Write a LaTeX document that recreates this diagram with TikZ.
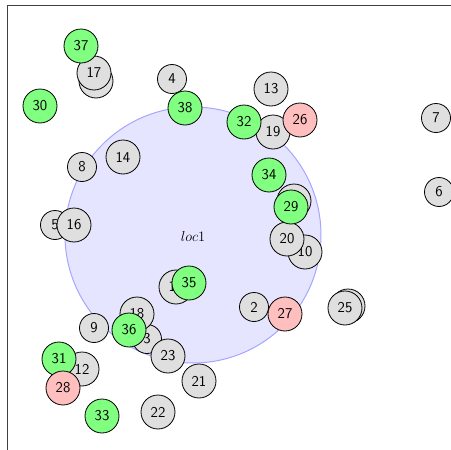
\documentclass[tikz,border=0pt]{standalone}
\usepackage{fontspec}
\begin{document}
\begin{tikzpicture}[x=1pt,y=-1pt,
  vtx/.style={circle,draw=black,line width=0.8pt,inner sep=0pt,
    font=\fontsize{15}{17}\sffamily},
  one/.style={vtx,minimum size=29pt},
  two/.style={vtx,minimum size=34pt},
  grey/.style={fill=gray!25},
  lime/.style={fill=green!50},
  rose/.style={fill=red!25},
  zone/.style={circle,fill=blue!10,draw=blue!35,line width=1pt,minimum size=256pt,inner sep=0pt},
  frameline/.style={draw=black!75,line width=0.9pt}]
\useasboundingbox (0,0) rectangle (451,450);
\draw[frameline] (7.5,450) -- (7.5,5.5) -- (451,5.5);

% region
\node[zone] (loc) at (193,235) {};
\node[font=\fontsize{15}{17}\selectfont] (loclabel) at (193,236) {$loc1$};

% grey vertices
\node[one,grey] (n2) at (254,307) {2};
\node[one,grey] (n3) at (147,339) {3};
\node[one,grey] (n4) at (172,79) {4};
\node[one,grey] (n5) at (55,225) {5};
\node[one,grey] (n6) at (439,192) {6};
\node[one,grey] (n7) at (436,118) {7};
\node[one,grey] (n8) at (82,167) {8};
\node[one,grey] (n9) at (94,328) {9};
\node[two,grey] (n10) at (305,252) {10};
\node[two,grey] (n11) at (96,81) {};
\node[two,grey] (n12) at (82,369) {12};
\node[two,grey] (n13) at (271,89) {13};
\node[two,grey] (n14) at (123,157) {14};
\node[two,grey] (n15) at (176,287) {15};
\node[two,grey] (n16) at (74,225) {16};
\node[two,grey] (n17) at (94,73) {17};
\node[two,grey] (n18) at (137,314) {18};
\node[two,grey] (n19) at (273,132) {19};
\node[two,grey] (n20) at (287,239) {20};
\node[two,grey] (n21) at (199,381) {21};
\node[two,grey] (n22) at (158,412) {22};
\node[two,grey] (n23) at (168,356) {23};
\node[two,grey] (n24) at (348,306) {};
\node[two,grey] (n25) at (345,308) {25};
\node[two,grey] (n39) at (294,201) {};

% green vertices
\node[two,lime] (n29) at (291,207) {29};
\node[two,lime] (n30) at (40,106) {30};
\node[two,lime] (n31) at (59,359) {31};
\node[two,lime] (n32) at (244,122) {32};
\node[two,lime] (n33) at (102,416) {33};
\node[two,lime] (n34) at (269,175) {34};
\node[two,lime] (n35) at (189,283) {35};
\node[two,lime] (n36) at (129,330) {36};
\node[two,lime] (n37) at (81,46) {37};
\node[two,lime] (n38) at (185,108) {38};

% red vertices
\node[two,rose] (n26) at (300,120) {26};
\node[two,rose] (n27) at (285,314) {27};
\node[two,rose] (n28) at (63,388) {28};
\end{tikzpicture}
\end{document}
